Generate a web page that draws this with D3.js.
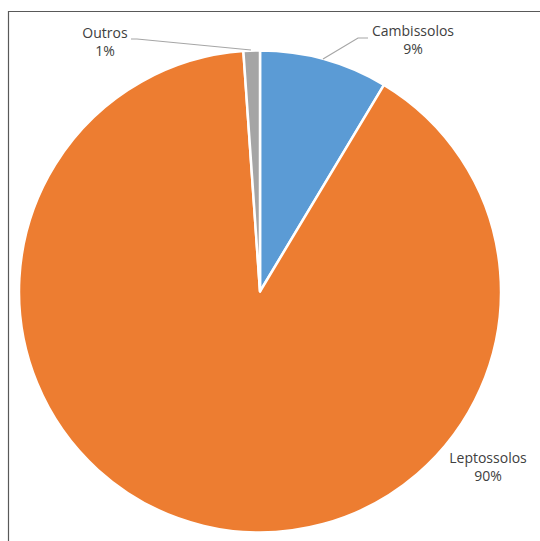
<!DOCTYPE html>
<html><head><meta charset="utf-8">
<script src="https://cdn.jsdelivr.net/npm/d3@7/dist/d3.min.js"></script>
<style>body{margin:0;background:#fff}svg{display:block}</style>
</head><body>
<script>
const categories = ["Cambissolos", "Leptossolos", "Outros"];
const values = [8.6, 90.3, 1.1];
const labels = ["9%", "90%", "1%"];
const colors = ["#5B9BD5", "#ED7D31", "#A5A5A5"];

const W = 540, H = 541;
const svg = d3.select("body").append("svg").attr("width", W).attr("height", H);

// frame
svg.append("path").attr("d", `M8.5,${H} V11.5 H${W}`).attr("fill", "none")
  .attr("stroke", "#595959").attr("stroke-width", 1.2);

const cx = 260, cy = 291.5, r = 241;
const pie = d3.pie().sort(null).value(d => d)(values);
const arc = d3.arc().innerRadius(0).outerRadius(r);
const g = svg.append("g").attr("transform", `translate(${cx},${cy})`);
g.selectAll("path").data(pie).join("path")
  .attr("d", arc).attr("fill", (d, i) => colors[i])
  .attr("stroke", "#fff").attr("stroke-width", 2.5).attr("stroke-linejoin", "round");

// leader lines
const leaders = [
  [[323, 59], [358, 38], [368, 38]],
  null,
  [[131, 39], [137, 39], [251, 50]]
];
leaders.forEach(pts => {
  if (!pts) return;
  svg.append("path").attr("d", d3.line()(pts)).attr("fill", "none")
    .attr("stroke", "#A6A6A6").attr("stroke-width", 1.2);
});

const labelPos = [[413, 31], [488, 458], [105, 33]];
const font = "'Open Sans', sans-serif";
categories.forEach((c, i) => {
  const t = svg.append("text").attr("x", labelPos[i][0]).attr("y", labelPos[i][1])
    .attr("text-anchor", "middle").attr("font-family", font).attr("font-size", 14)
    .attr("fill", "#404040");
  t.append("tspan").attr("x", labelPos[i][0]).attr("dy", "0.35em").text(c);
  t.append("tspan").attr("x", labelPos[i][0]).attr("dy", "1.3em").text(labels[i]);
});
</script>
</body></html>
